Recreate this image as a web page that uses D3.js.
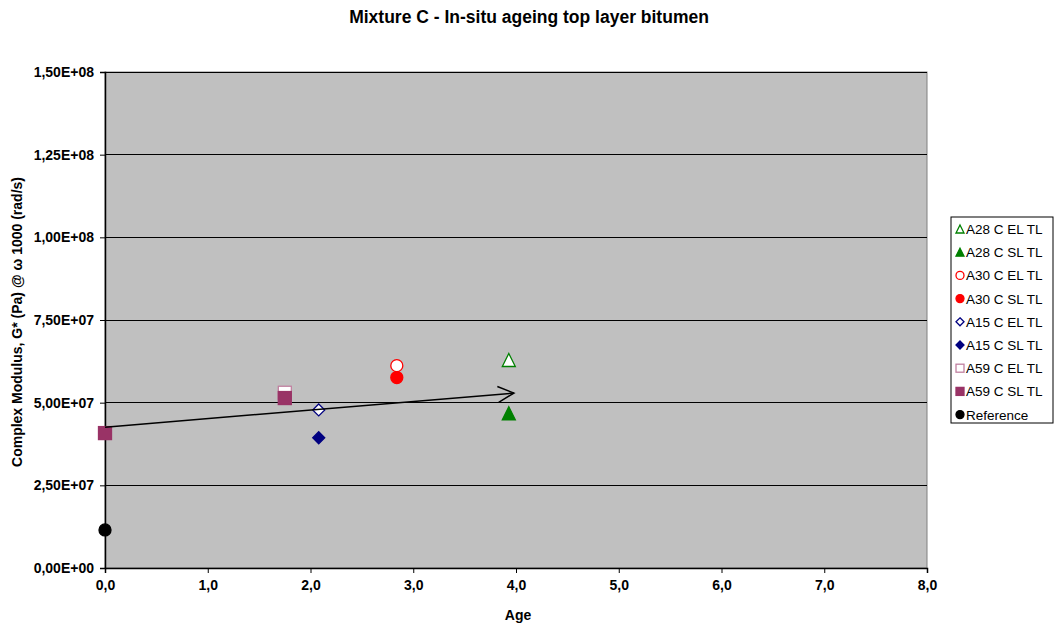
<!DOCTYPE html>
<html>
<head>
<meta charset="utf-8">
<script src="https://cdn.jsdelivr.net/npm/d3@7"></script>
<style>
  body { margin: 0; background: #fff; }
  text { font-family: Arial, "Liberation Sans", sans-serif; }
</style>
</head>
<body>
<div id="chart"></div>
<script>
// Series data (age, G* value)
const seriesNames = ["A28 C EL TL", "A28 C SL TL", "A30 C EL TL", "A30 C SL TL",
                     "A15 C EL TL", "A15 C SL TL", "A59 C EL TL", "A59 C SL TL", "Reference"];
const seriesAge = [[3.93], [3.93], [2.84], [2.84], [2.08], [2.08], [1.75], [0.0, 1.75], [0.0]];
const seriesG = [[6.29e7], [4.68e7], [6.12e7], [5.76e7], [4.78e7], [3.94e7], [5.3e7], [4.08e7, 5.14e7], [1.15e7]];
const seriesColor = ["#008000", "#008000", "#ff0000", "#ff0000", "#000080", "#000080", "#993366", "#993366", "#000000"];
const seriesShape = ["triangle", "triangle", "circle", "circle", "diamond", "diamond", "square", "square", "circle"];
const seriesFilled = [false, true, false, true, false, true, false, true, true];

// trend arrow
const arrowAge = [0.0, 3.98];
const arrowG = [4.26e7, 5.29e7];

const xTicks = [0, 1, 2, 3, 4, 5, 6, 7, 8];
const yTicks = [0, 2.5e7, 5e7, 7.5e7, 1e8, 1.25e8, 1.5e8];

const W = 1057, H = 625;
const margin = { top: 72, right: 130, bottom: 57, left: 105 };
const width = 927 - margin.left, height = 568 - margin.top;

const svg = d3.select("#chart").append("svg")
  .attr("width", W).attr("height", H);

const g = svg.append("g").attr("transform", `translate(${margin.left},${margin.top})`);

const x = d3.scaleLinear().domain([0, 8]).range([0, width]);
const y = d3.scaleLinear().domain([0, 1.5e8]).range([height, 0]);

g.append("rect").attr("width", width).attr("height", height)
  .attr("fill", "#c0c0c0").attr("stroke", "#808080");

// gridlines
g.selectAll(".grid").data(yTicks.slice(1)).join("line")
  .attr("x1", 0).attr("x2", width)
  .attr("y1", d => y(d)).attr("y2", d => y(d))
  .attr("stroke", "#000").attr("stroke-width", 1).attr("shape-rendering", "crispEdges");

const fmtY = d => d3.format(".2e")(d).replace(".", ",").replace(/e([+-])(\d)$/, "E$10$2").replace("e", "E");
const fmtX = d => d3.format(".1f")(d).replace(".", ",");

const yAxis = g.append("g")
  .call(d3.axisLeft(y).tickValues(yTicks).tickFormat(fmtY).tickSize(5).tickPadding(6));
const xAxis = g.append("g").attr("transform", `translate(0,${height})`)
  .call(d3.axisBottom(x).tickValues(xTicks).tickFormat(fmtX).tickSize(5).tickPadding(7));
[xAxis, yAxis].forEach(a => {
  a.select(".domain").attr("stroke", "#000").attr("stroke-width", 1.5);
  a.selectAll("text").attr("font-size", 14).attr("font-weight", "bold").attr("fill", "#000");
});

// markers
function drawMarker(sel, shape, color, filled, cx, cy, s) {
  const fill = filled ? color : "#fff";
  if (shape === "circle") {
    sel.append("circle").attr("cx", cx).attr("cy", cy).attr("r", s / 2)
      .attr("fill", fill).attr("stroke", color).attr("stroke-width", 1.3);
  } else if (shape === "square") {
    sel.append("rect").attr("x", cx - s / 2).attr("y", cy - s / 2).attr("width", s).attr("height", s)
      .attr("fill", fill).attr("stroke", filled ? color : "#c080a0").attr("stroke-width", 1.3);
  } else if (shape === "triangle") {
    sel.append("path").attr("d", `M${cx},${cy - s / 2}L${cx + s / 2},${cy + s / 2}L${cx - s / 2},${cy + s / 2}Z`)
      .attr("fill", fill).attr("stroke", color).attr("stroke-width", 1.3);
  } else if (shape === "diamond") {
    sel.append("path").attr("d", `M${cx},${cy - s / 2}L${cx + s / 2},${cy}L${cx},${cy + s / 2}L${cx - s / 2},${cy}Z`)
      .attr("fill", fill).attr("stroke", color).attr("stroke-width", 1.3);
  }
}

const sizes = { circle: 12, square: 13, triangle: 13, diamond: 12 };
const pts = g.append("g");
seriesNames.forEach((n, i) => {
  seriesAge[i].forEach((a, j) => {
    drawMarker(pts, seriesShape[i], seriesColor[i], seriesFilled[i], x(a), y(seriesG[i][j]), sizes[seriesShape[i]]);
  });
});

// arrow
svg.append("defs").append("marker").attr("id", "arr")
  .attr("viewBox", "0 0 20 20").attr("refX", 18).attr("refY", 10)
  .attr("markerWidth", 20).attr("markerHeight", 20).attr("markerUnits", "userSpaceOnUse")
  .attr("orient", "auto")
  .append("path").attr("d", "M2,2L18,10L2,18").attr("fill", "none").attr("stroke", "#000").attr("stroke-width", 1.5);
g.append("line")
  .attr("x1", x(arrowAge[0])).attr("y1", y(arrowG[0]))
  .attr("x2", x(arrowAge[1])).attr("y2", y(arrowG[1]))
  .attr("stroke", "#000").attr("stroke-width", 1.5).attr("marker-end", "url(#arr)");

// title & labels
svg.append("text").attr("x", 529).attr("y", 23).attr("text-anchor", "middle")
  .attr("font-size", 17.5).attr("font-weight", "bold").text("Mixture C - In-situ ageing top layer bitumen");
svg.append("text").attr("x", 518).attr("y", 620).attr("text-anchor", "middle")
  .attr("font-size", 14).attr("font-weight", "bold").text("Age");
svg.append("text").attr("transform", "translate(22,322) rotate(-90)").attr("text-anchor", "middle")
  .attr("font-size", 14).attr("font-weight", "bold")
  .text("Complex Modulus, G* (Pa) @ ω 1000 (rad/s)");

// legend
const lg = svg.append("g").attr("transform", "translate(951,217)");
lg.append("rect").attr("width", 102).attr("height", 206).attr("fill", "#fff").attr("stroke", "#000");
seriesNames.forEach((n, i) => {
  const yy = 12 + i * 23.2;
  drawMarker(lg, seriesShape[i], seriesColor[i], seriesFilled[i], 9, yy, 8);
  lg.append("text").attr("x", 15).attr("y", yy + 5).attr("font-size", 13.5).text(n);
});
</script>
</body>
</html>
